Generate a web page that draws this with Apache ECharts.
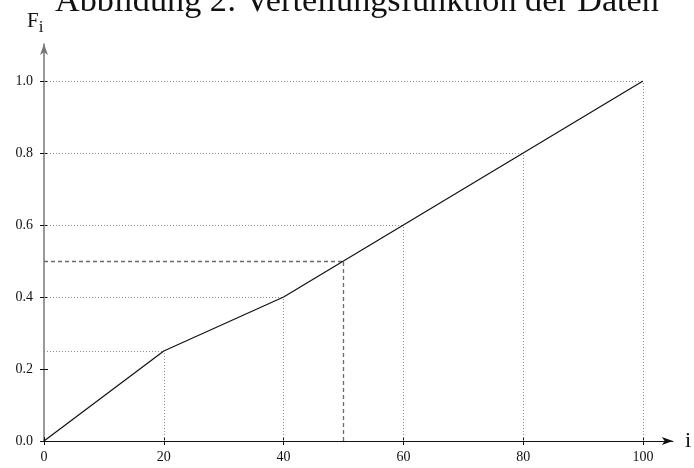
<!DOCTYPE html>
<html><head><meta charset="utf-8">
<script src="https://cdn.jsdelivr.net/npm/echarts@6/dist/echarts.min.js"></script>
<style>html,body{margin:0;padding:0;background:#fff}#c{width:694px;height:468px}</style>
</head><body><div id="c"></div>
<script>
// Data
const iValues = [0, 20, 40, 60, 80, 100];
const FValues = [0, 0.25, 0.4, 0.6, 0.8, 1.0];
const medianPoint = [50, 0.5];
const xTickLabels = ['0', '20', '40', '60', '80', '100'];
const yTickLabels = ['0.0', '0.2', '0.4', '0.6', '0.8', '1.0'];
const titleText = 'Abbildung 2: Verteilungsfunktion der Daten';

const serif = 'Liberation Serif';
const chart = echarts.init(document.getElementById('c'));

const dotted = {type: [1, 2], color: '#8a8a8a', width: 1};
const guideLines = [];
for (let k = 1; k < iValues.length; k++) {
  guideLines.push([{coord: [0, FValues[k]], lineStyle: dotted}, {coord: [iValues[k], FValues[k]]}]);
  guideLines.push([{coord: [iValues[k], 0], lineStyle: dotted}, {coord: [iValues[k], FValues[k]]}]);
}
const dashed = {type: [4, 3], color: '#6a6a6a', width: 1.3};
guideLines.push([{coord: [0, medianPoint[1]], lineStyle: dashed}, {coord: medianPoint}]);
guideLines.push([{coord: [medianPoint[0], 0], lineStyle: dashed}, {coord: medianPoint}]);

const labelStyle = {fontFamily: serif, fontSize: 14, color: '#111'};

chart.setOption({
  animation: false,
  title: {text: titleText, left: 50, top: -20,
    textStyle: {fontFamily: serif, fontSize: 34.2, fontWeight: 'normal', color: '#111'}},
  graphic: [{
    type: 'text', left: 27, top: 11, z: 10,
    style: {text: '{f|F}{s|i}', rich: {
      f: {fontFamily: serif, fontSize: 21, fill: '#111'},
      s: {fontFamily: serif, fontSize: 17, fill: '#111', padding: [12, 0, 0, 0]}}}
  }],
  grid: [
    {left: 44, right: 51, top: 81, bottom: 27},
    {left: 44, right: 21, top: 44, bottom: 27}
  ],
  xAxis: [
    {type: 'value', gridIndex: 0, min: 0, max: 100, interval: 20,
      axisLine: {show: false}, splitLine: {show: false},
      axisTick: {show: true, length: 4, lineStyle: {color: '#111'}},
      axisLabel: Object.assign({margin: 9, formatter: (v) => xTickLabels[iValues.indexOf(v)] ?? ''}, labelStyle)},
    {type: 'value', gridIndex: 0, min: 0, max: 100, interval: 20, position: 'bottom',
      axisLine: {show: false}, splitLine: {show: false}, axisLabel: {show: false},
      axisTick: {show: true, inside: true, length: 4, lineStyle: {color: '#111'}}},
    {type: 'value', gridIndex: 1, min: 0, max: 1, axisLabel: {show: false}, axisTick: {show: false}, splitLine: {show: false},
      axisLine: {show: true, symbol: ['none', 'arrow'], symbolSize: [6, 11], lineStyle: {color: '#111', width: 1.2}},
      name: 'i', nameLocation: 'end', nameGap: 12,
      nameTextStyle: {fontFamily: serif, fontSize: 22, color: '#111', verticalAlign: 'middle'}}
  ],
  yAxis: [
    {type: 'value', gridIndex: 0, min: 0, max: 1, interval: 0.2,
      axisLine: {show: false}, splitLine: {show: false},
      axisTick: {show: true, length: 4, lineStyle: {color: '#111'}},
      axisLabel: Object.assign({margin: 11, formatter: (v) => yTickLabels[Math.round(v * 5)] ?? ''}, labelStyle)},
    {type: 'value', gridIndex: 0, min: 0, max: 1, interval: 0.2, position: 'left',
      axisLine: {show: false}, splitLine: {show: false}, axisLabel: {show: false},
      axisTick: {show: true, inside: true, length: 4, lineStyle: {color: '#111'}}},
    {type: 'value', gridIndex: 1, min: 0, max: 1, axisLabel: {show: false}, axisTick: {show: false}, splitLine: {show: false},
      axisLine: {show: true, symbol: ['none', 'arrow'], symbolSize: [6, 11], lineStyle: {color: '#777', width: 1.5}}}
  ],
  series: [{
    type: 'line', xAxisIndex: 0, yAxisIndex: 0,
    data: iValues.map((x, k) => [x, FValues[k]]),
    showSymbol: false, lineStyle: {color: '#111', width: 1.2}, z: 5,
    markLine: {silent: true, symbol: 'none', label: {show: false}, animation: false, data: guideLines}
  }]
});
</script></body></html>
